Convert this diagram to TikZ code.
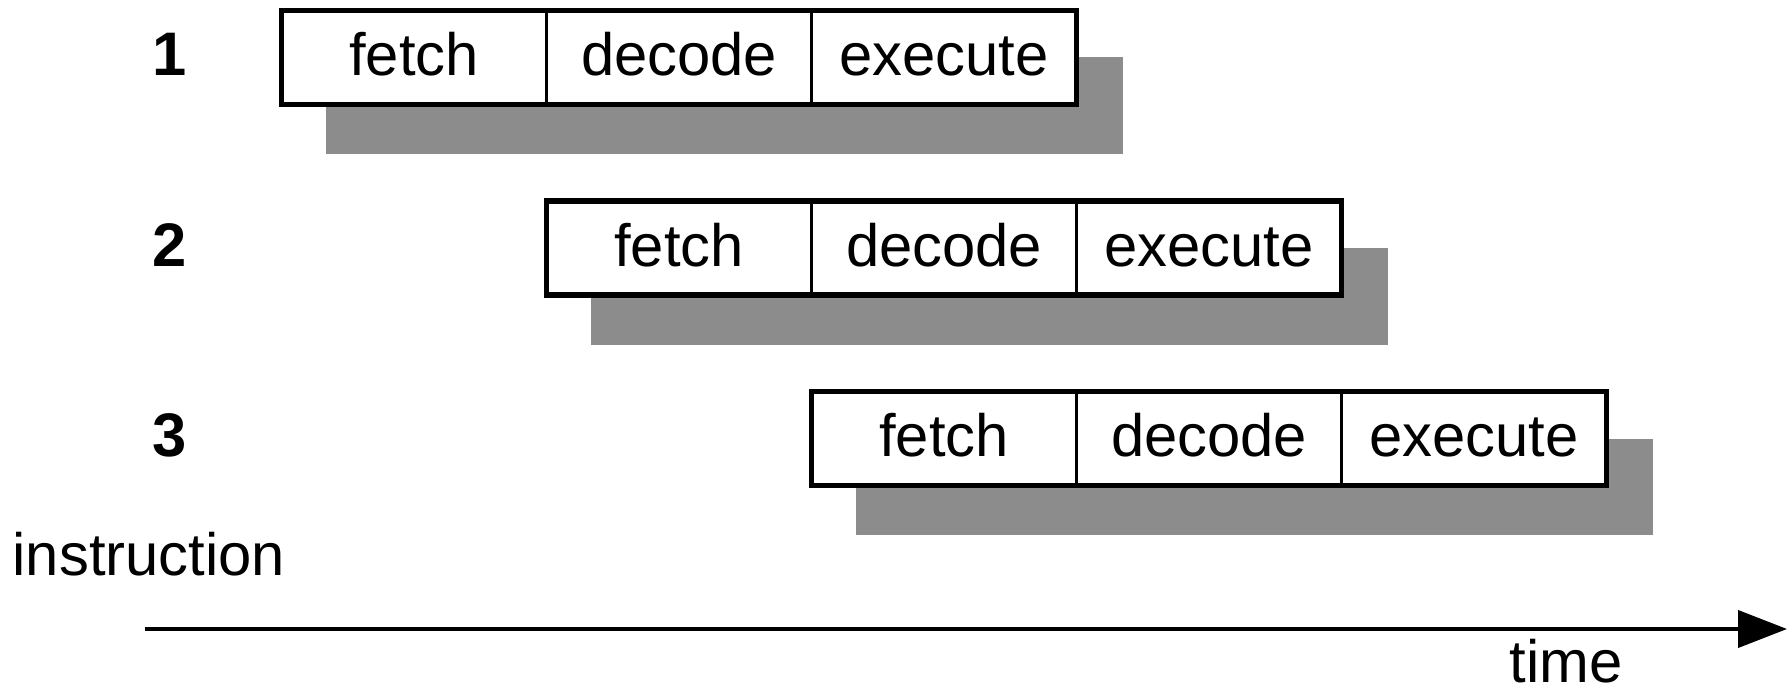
\documentclass[tikz,border=0pt]{standalone}
\usepackage{fontspec}
\setmainfont{Liberation Sans}
\usetikzlibrary{positioning,arrows.meta}

\tikzset{
  stage/.style={draw, fill=white, line width=0.035cm, minimum width=2.65cm, minimum height=0.94cm,
    inner sep=0pt, outer sep=0pt, text height=0.36cm, text depth=0pt},
  frame/.style={draw, line width=0.055cm},
  shade/.style={fill=black!45},
  rowno/.style={font=\fontsize{17.5}{21}\selectfont\bfseries, inner sep=0pt, text height=0.36cm, text depth=0pt},
  axis/.style={line width=0.04cm, -{Triangle[length=0.49cm, width=0.37cm]}}
}

\begin{document}
\begin{tikzpicture}[every node/.append style={font=\fontsize{17}{21}\selectfont}]
\useasboundingbox (0,0) rectangle (17.91,-6.96);

% one row per instruction, each shifted right by one stage
\foreach \r in {1,2,3} {
  \pgfmathsetmacro{\x}{2.815+(\r-1)*2.65}
  \pgfmathsetmacro{\y}{-0.575-(\r-1)*1.905}
  % grey shadow behind the row
  \fill[shade] (\x+0.44,\y) rectangle (\x+8.41,\y-0.965);
  \node[stage, anchor=west] (f\r) at (\x,\y) {fetch};
  \node[stage, right=0pt of f\r] (d\r) {decode};
  \node[stage, right=0pt of d\r] (e\r) {execute};
  \draw[frame] (f\r.north west) rectangle (e\r.south east);
  % instruction number
  \node[rowno] (n\r) at (1.70,\y) {\r};
}

\node[anchor=base west, inner sep=0pt] (instr) at (0.12,-5.75) {instruction};

% time axis
\coordinate (t0) at (1.45,-6.29);
\coordinate (t1) at (17.87,-6.29);
\draw[axis] (t0) -- (t1);
\node[anchor=base, inner sep=0pt] (time) at (15.66,-6.82) {time};

\end{tikzpicture}
\end{document}
